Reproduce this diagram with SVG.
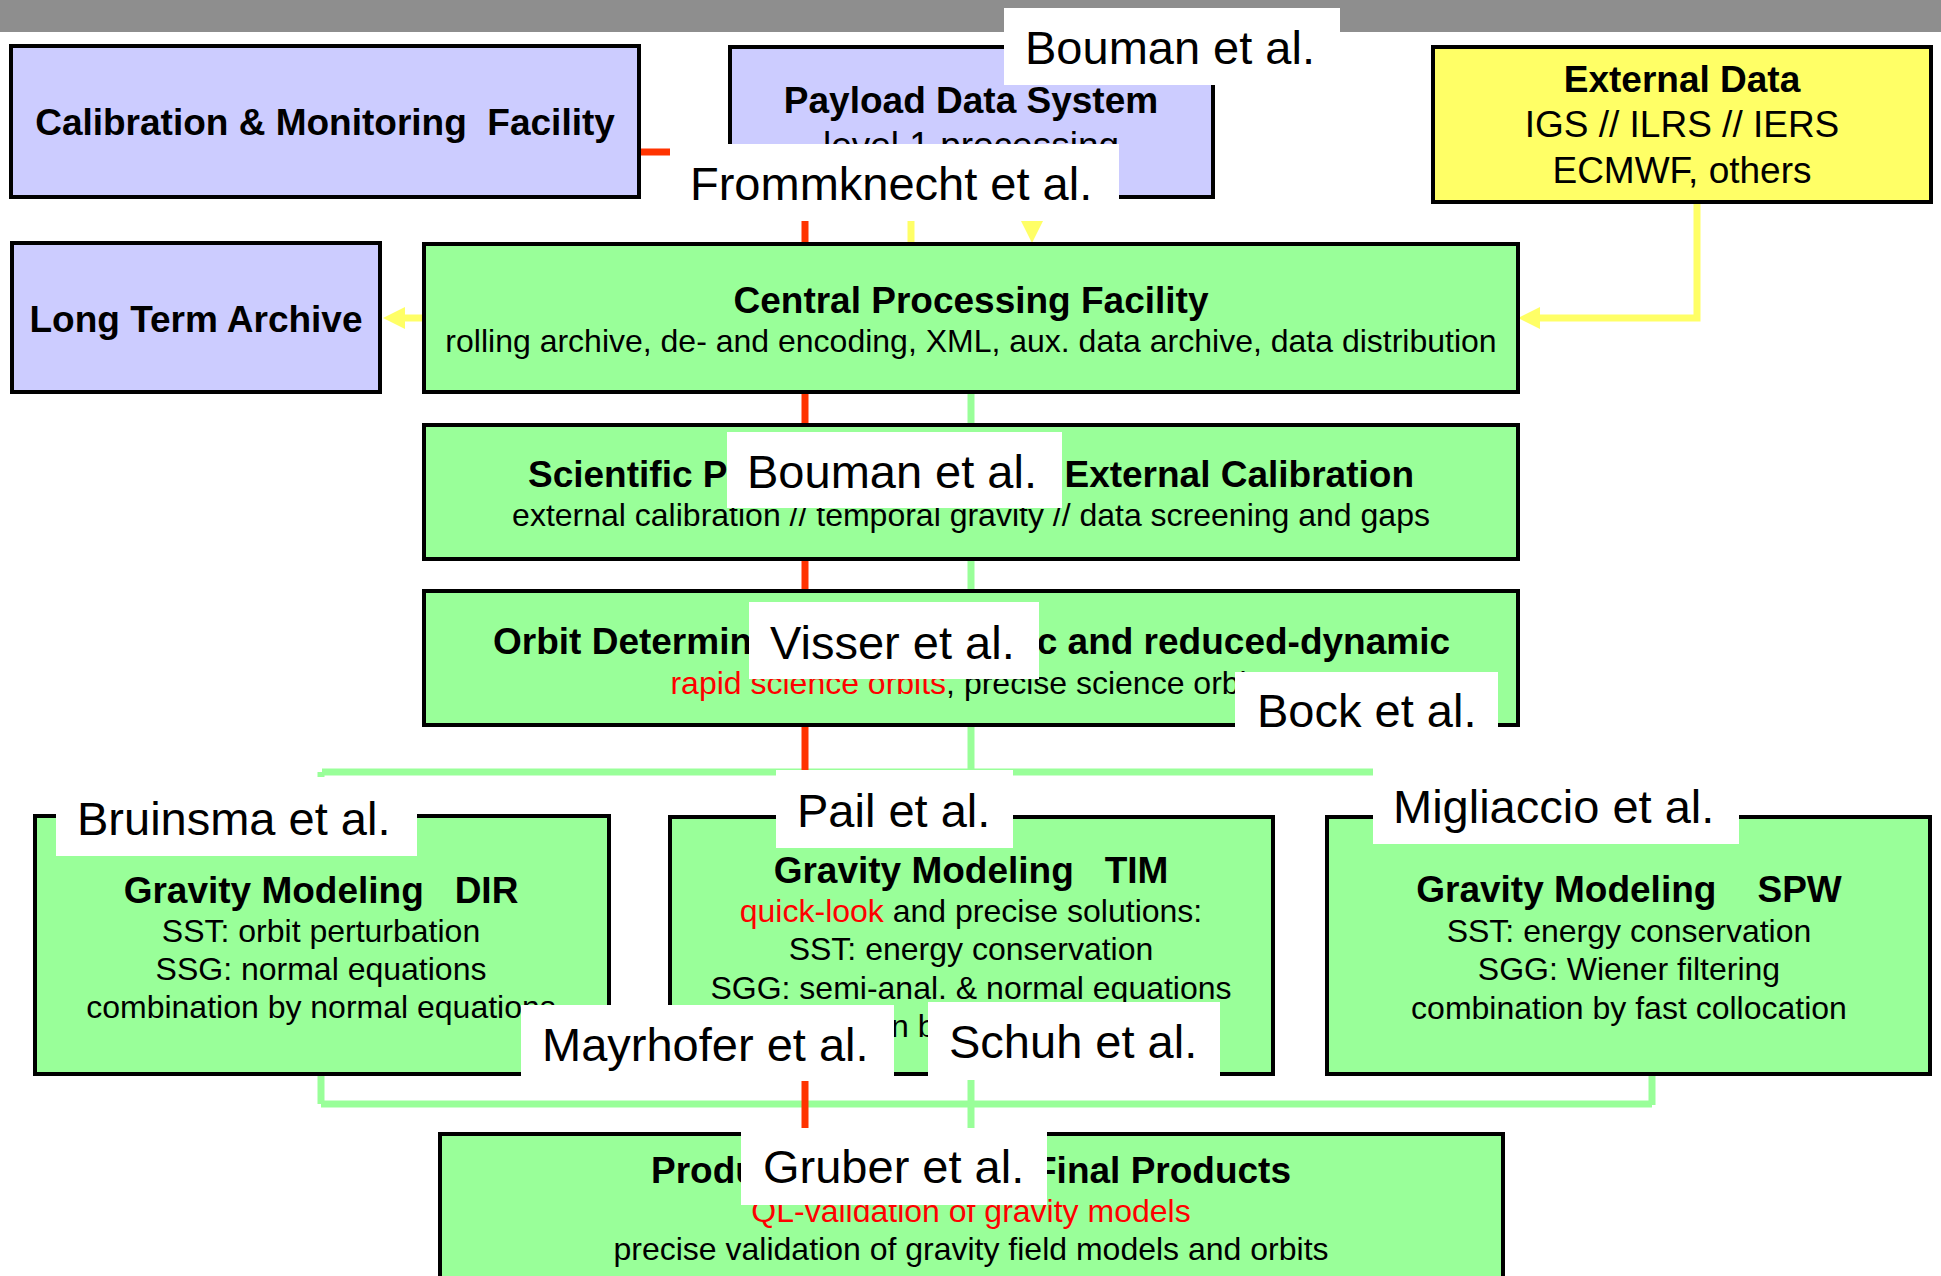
<svg xmlns="http://www.w3.org/2000/svg" width="1941" height="1276" viewBox="0 0 1941 1276">
<style>
.box{stroke:#000;stroke-width:4}
.lav{fill:#ccccff}
.grn{fill:#99ff99}
.yel{fill:#ffff66}
.lbl{fill:#ffffff}
.t{font-family:"Liberation Sans",Arial,Helvetica,sans-serif;fill:#000}
.b37{font-size:37px;font-weight:bold;text-anchor:middle}
.b37s{font-size:37px;font-weight:bold}
.r37{font-size:37px;text-anchor:middle}
.r32{font-size:32px;text-anchor:middle}
.lab{font-size:47px}
.red{fill:#ff0000}
.gl{stroke:#99ff99;stroke-width:7;fill:none}
.rl{stroke:#ff3300;stroke-width:7;fill:none}
.yl{stroke:#ffff66;stroke-width:7;fill:none}
</style>
<defs>
<marker id="ya" viewBox="0 0 22 22" refX="0" refY="11" markerWidth="22" markerHeight="22" markerUnits="userSpaceOnUse" orient="auto">
<path d="M0,0 L22,11 L0,22 Z" fill="#ffff66"/>
</marker>
</defs>
<rect x="0" y="0" width="1941" height="32" fill="#8e8e8e"/>
<g id="connectors">
<path class="gl" d="M322,772 H1652"/>
<path class="gl" d="M321,772 V816"/>
<path class="gl" d="M1652,772 V817"/>
<path class="gl" d="M321,1104 H1652"/>
<path class="gl" d="M321,1075 V1104"/>
<path class="gl" d="M1652,1075 V1105"/>
<path class="gl" d="M971,394 V1128"/>
<path class="rl" d="M640,152 H805 V1128"/>
<path class="yl" d="M911,199 V242"/>
<path class="yl" d="M1032,199 V221" marker-end="url(#ya)"/>
<path class="yl" d="M1697,204 V318 H1540" marker-end="url(#ya)"/>
<path class="yl" d="M422,318 H405" marker-end="url(#ya)"/>
</g>
<g id="calibration">
<rect class="box lav" x="11" y="46" width="628" height="151"/>
<text class="t b37" x="325" y="135" xml:space="preserve">Calibration &amp; Monitoring  Facility</text>
</g>
<g id="payload">
<rect class="box lav" x="730" y="47" width="483" height="150"/>
<text class="t b37" x="971" y="113">Payload Data System</text>
<text class="t r37" x="971" y="158">level 1 processing</text>
</g>
<g id="external">
<rect class="box yel" x="1433" y="47" width="498" height="155"/>
<text class="t b37" x="1682" y="92">External Data</text>
<text class="t r37" x="1682" y="137">IGS // ILRS // IERS</text>
<text class="t r37" x="1682" y="183">ECMWF, others</text>
</g>
<g id="lta">
<rect class="box lav" x="12" y="243" width="368" height="149"/>
<text class="t b37" x="196" y="332">Long Term Archive</text>
</g>
<g id="cpf">
<rect class="box grn" x="424" y="244" width="1094" height="148"/>
<text class="t b37" x="971" y="313">Central Processing Facility</text>
<text class="t r32" x="971" y="352">rolling archive, de- and encoding, XML, aux. data archive, data distribution</text>
</g>
<g id="spf">
<rect class="box grn" x="424" y="425" width="1094" height="134"/>
<text class="t b37s" x="528" y="487">Scientific P</text>
<text class="t b37s" x="1414" y="487" text-anchor="end">External Calibration</text>
<text class="t r32" x="971" y="526">external calibration // temporal gravity // data screening and gaps</text>
</g>
<g id="orbit">
<rect class="box grn" x="424" y="591" width="1094" height="134"/>
<text class="t b37s" x="493" y="654">Orbit Determin</text>
<text class="t b37s" x="1450" y="654" text-anchor="end">c and reduced-dynamic</text>
<text class="t r32" x="971" y="694"><tspan class="red">rapid science orbits</tspan>, precise science orbits</text>
</g>
<g id="dir">
<rect class="box grn" x="35" y="816" width="574" height="258"/>
<text class="t b37" x="321" y="903" xml:space="preserve">Gravity Modeling   DIR</text>
<text class="t r32" x="321" y="942">SST: orbit perturbation</text>
<text class="t r32" x="321" y="980">SSG: normal equations</text>
<text class="t r32" x="321" y="1018">combination by normal equations</text>
</g>
<g id="tim">
<rect class="box grn" x="670" y="817" width="603" height="257"/>
<text class="t b37" x="971" y="883" xml:space="preserve">Gravity Modeling   TIM</text>
<text class="t r32" x="971" y="922"><tspan class="red">quick-look</tspan> and precise solutions:</text>
<text class="t r32" x="971" y="960">SST: energy conservation</text>
<text class="t r32" x="971" y="999">SGG: semi-anal. &amp; normal equations</text>
<text class="t r32" x="971" y="1037">combination by normal equations</text>
</g>
<g id="spw">
<rect class="box grn" x="1327" y="817" width="603" height="257"/>
<text class="t b37" x="1629" y="902" xml:space="preserve">Gravity Modeling    SPW</text>
<text class="t r32" x="1629" y="942">SST: energy conservation</text>
<text class="t r32" x="1629" y="980">SGG: Wiener filtering</text>
<text class="t r32" x="1629" y="1019">combination by fast collocation</text>
</g>
<g id="products">
<rect class="box grn" x="440" y="1134" width="1063" height="200"/>
<text class="t b37s" x="651" y="1183">Produ</text>
<text class="t b37s" x="1291" y="1183" text-anchor="end">Final Products</text>
<text class="t r32 red" x="971" y="1222">QL-validation of gravity models</text>
<text class="t r32" x="971" y="1260">precise validation of gravity field models and orbits</text>
</g>
<g id="label-bouman-1">
<rect class="lbl" x="1004" y="8" width="336" height="77"/>
<text class="t lab" x="1025" y="64">Bouman et al.</text>
</g>
<g id="label-frommknecht">
<rect class="lbl" x="670" y="144" width="449" height="77"/>
<text class="t lab" x="690" y="200">Frommknecht et al.</text>
</g>
<g id="label-bouman-2">
<rect class="lbl" x="727" y="432" width="335" height="76"/>
<text class="t lab" x="747" y="488">Bouman et al.</text>
</g>
<g id="label-visser">
<rect class="lbl" x="749" y="602" width="290" height="77"/>
<text class="t lab" x="770" y="659">Visser et al.</text>
</g>
<g id="label-bock">
<rect class="lbl" x="1235" y="672" width="263" height="56"/>
<text class="t lab" x="1257" y="727">Bock et al.</text>
</g>
<g id="label-bruinsma">
<rect class="lbl" x="56" y="777" width="361" height="79"/>
<text class="t lab" x="77" y="835">Bruinsma et al.</text>
</g>
<g id="label-pail">
<rect class="lbl" x="776" y="770" width="237" height="78"/>
<text class="t lab" x="797" y="827">Pail et al.</text>
</g>
<g id="label-migliaccio">
<rect class="lbl" x="1373" y="762" width="366" height="82"/>
<text class="t lab" x="1393" y="823">Migliaccio et al.</text>
</g>
<g id="label-mayrhofer">
<rect class="lbl" x="521" y="1005" width="373" height="76"/>
<text class="t lab" x="542" y="1061">Mayrhofer et al.</text>
</g>
<g id="label-schuh">
<rect class="lbl" x="928" y="1002" width="292" height="78"/>
<text class="t lab" x="949" y="1058">Schuh et al.</text>
</g>
<g id="label-gruber">
<rect class="lbl" x="741" y="1128" width="306" height="77"/>
<text class="t lab" x="763" y="1183">Gruber et al.</text>
</g>
</svg>
